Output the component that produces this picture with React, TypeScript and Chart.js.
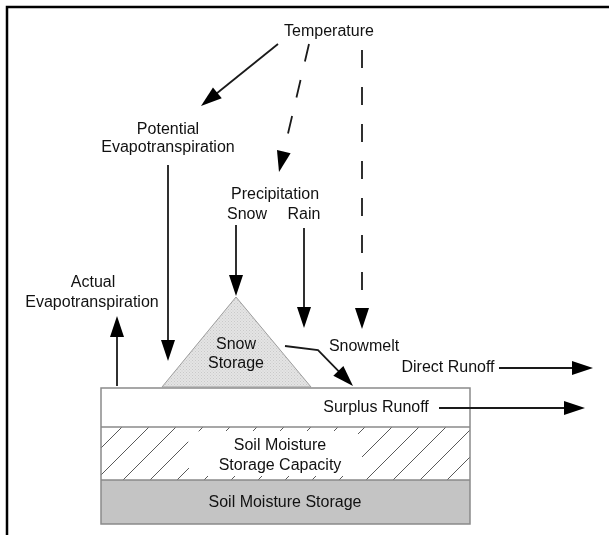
import React, { useEffect, useRef } from "react";
import { Chart, registerables } from "chart.js";
Chart.register(...registerables);

// Diagram coordinate space (data units)
const X_MAX = 609;
const Y_MAX = 535;

// Outer frame polyline
const frameX = [7, 7, 609];
const frameY = [535, 7, 7];

// Straight arrows
const arrowNames = [
  "Temperature→PET",
  "Temperature→Precipitation",
  "Temperature→Snowmelt",
  "PET→Soil",
  "Snow→Storage",
  "Rain→Soil",
  "Actual ET",
  "Direct Runoff",
  "Surplus Runoff",
];
const arrowX0 = [278, 309, 362, 168, 236, 304, 117, 499, 439];
const arrowY0 = [44, 44, 50, 165, 225, 228, 386, 368, 408];
const arrowX1 = [201, 279, 362, 168, 236, 304, 117, 593, 585];
const arrowY1 = [106, 172, 329, 361, 296, 328, 316, 368, 408];
const arrowDashed = [false, true, true, false, false, false, false, false, false];

// Snowmelt bent arrow
const meltX = [285, 318, 353];
const meltY = [346, 350, 386];

// Snow storage triangle
const triX = [162, 236, 311];
const triY = [387, 297, 387];

// Soil column layers
const boxLeft = 101;
const boxRight = 470;
const layerNames = ["Surplus", "Capacity", "Storage"];
const layerTop = [388, 427, 480];
const layerBottom = [427, 480, 524];

// Text labels
const labelTexts = [
  "Temperature",
  "Potential",
  "Evapotranspiration",
  "Precipitation",
  "Snow",
  "Rain",
  "Actual",
  "Evapotranspiration",
  "Snow",
  "Storage",
  "Snowmelt",
  "Direct Runoff",
  "Surplus Runoff",
  "Soil Moisture",
  "Storage Capacity",
  "Soil Moisture Storage",
];
const labelX = [329, 168, 168, 275, 247, 304, 93, 92, 236, 236, 364, 448, 376, 280, 280, 285];
const labelY = [32, 130, 148, 195, 215, 215, 283, 303, 345, 364, 347, 368, 408, 446, 466, 503];

const FONT = '16px "Liberation Sans", Arial, sans-serif';
const INK = "#000000";

function seg(x0: number, y0: number, x1: number, y1: number, trim: number) {
  const dx = x1 - x0;
  const dy = y1 - y0;
  const len = Math.hypot(dx, dy);
  return [
    { x: x0, y: y0 },
    { x: x1 - (dx / len) * trim, y: y1 - (dy / len) * trim },
  ];
}

const diagramPlugin = {
  id: "diagram",
  beforeDatasetsDraw(chart: any) {
    const { ctx, scales } = chart;
    const px = (v: number) => scales.x.getPixelForValue(v);
    const py = (v: number) => scales.y.getPixelForValue(v);
    ctx.save();
    const L = px(boxLeft);
    const R = px(boxRight);
    ctx.fillStyle = "#ffffff";
    ctx.fillRect(L, py(layerTop[0]), R - L, py(layerBottom[0]) - py(layerTop[0]));
    const hT = py(layerTop[1]);
    const hB = py(layerBottom[1]);
    ctx.fillRect(L, hT, R - L, hB - hT);
    ctx.save();
    ctx.beginPath();
    ctx.rect(L, hT, R - L, hB - hT);
    ctx.clip();
    ctx.strokeStyle = "#5a5a5a";
    ctx.lineWidth = 1;
    const h = hB - hT;
    for (let bx = px(123) - 27 * 6; bx < R + 10; bx += 27) {
      ctx.beginPath();
      ctx.moveTo(bx, hB);
      ctx.lineTo(bx + h, hT);
      ctx.stroke();
    }
    ctx.restore();
    // backdrop behind capacity text
    ctx.fillStyle = "#ffffff";
    ctx.beginPath();
    const bxL = px(188), bxR = px(362), byT = py(431), byB = py(476);
    const r = 14;
    ctx.moveTo(bxL + r, byT);
    ctx.lineTo(bxR - r, byT);
    ctx.quadraticCurveTo(bxR, byT, bxR, byT + r);
    ctx.lineTo(bxR, byB - r);
    ctx.quadraticCurveTo(bxR, byB, bxR - r, byB);
    ctx.lineTo(bxL + r, byB);
    ctx.quadraticCurveTo(bxL, byB, bxL, byB - r);
    ctx.lineTo(bxL, byT + r);
    ctx.quadraticCurveTo(bxL, byT, bxL + r, byT);
    ctx.fill();
    ctx.fillStyle = "#c4c4c4";
    ctx.fillRect(L, py(layerTop[2]), R - L, py(layerBottom[2]) - py(layerTop[2]));
    ctx.strokeStyle = "#8a8a8a";
    ctx.lineWidth = 1.5;
    ctx.strokeRect(L, py(layerTop[0]), R - L, py(layerBottom[2]) - py(layerTop[0]));
    for (let i = 1; i < layerNames.length; i++) {
      ctx.beginPath();
      ctx.moveTo(L, py(layerTop[i]));
      ctx.lineTo(R, py(layerTop[i]));
      ctx.stroke();
    }
    const pc = document.createElement("canvas");
    pc.width = 3;
    pc.height = 3;
    const pctx = pc.getContext("2d")!;
    pctx.fillStyle = "#e4e4e4";
    pctx.fillRect(0, 0, 3, 3);
    pctx.fillStyle = "#c9c9c9";
    pctx.fillRect(0, 0, 1, 1);
    pctx.fillRect(1.5, 1.5, 1, 1);
    ctx.fillStyle = ctx.createPattern(pc, "repeat");
    ctx.beginPath();
    ctx.moveTo(px(triX[0]), py(triY[0]));
    for (let i = 1; i < triX.length; i++) ctx.lineTo(px(triX[i]), py(triY[i]));
    ctx.closePath();
    ctx.fill();
    ctx.strokeStyle = "#9c9c9c";
    ctx.lineWidth = 1;
    ctx.stroke();
    ctx.restore();
  },
  afterDatasetsDraw(chart: any) {
    const { ctx, scales } = chart;
    const px = (v: number) => scales.x.getPixelForValue(v);
    const py = (v: number) => scales.y.getPixelForValue(v);
    ctx.save();
    const head = (x0: number, y0: number, x1: number, y1: number) => {
      const ax = px(x1), ay = py(y1);
      const ang = Math.atan2(py(y1) - py(y0), px(x1) - px(x0));
      const len = 21, half = 7;
      ctx.save();
      ctx.translate(ax, ay);
      ctx.rotate(ang);
      ctx.fillStyle = INK;
      ctx.beginPath();
      ctx.moveTo(0, 0);
      ctx.lineTo(-len, -half);
      ctx.lineTo(-len, half);
      ctx.closePath();
      ctx.fill();
      ctx.restore();
    };
    for (let i = 0; i < arrowNames.length; i++) {
      head(arrowX0[i], arrowY0[i], arrowX1[i], arrowY1[i]);
    }
    const n = meltX.length;
    head(meltX[n - 2], meltY[n - 2], meltX[n - 1], meltY[n - 1]);
    ctx.fillStyle = "#111111";
    ctx.font = FONT;
    ctx.textAlign = "center";
    ctx.textBaseline = "middle";
    for (let i = 0; i < labelTexts.length; i++) {
      ctx.fillText(labelTexts[i], px(labelX[i]), py(labelY[i]));
    }
    ctx.restore();
  },
};

export default function App() {
  const ref = useRef<HTMLCanvasElement | null>(null);
  useEffect(() => {
    document.body.style.margin = "0";
    const canvas = ref.current!;
    const datasets: any[] = [];
    datasets.push({
      label: "frame",
      data: frameX.map((x, i) => ({ x, y: frameY[i] })),
      borderColor: "#000000",
      borderWidth: 2.5,
      showLine: true,
      pointRadius: 0,
      fill: false,
    });
    for (let i = 0; i < arrowNames.length; i++) {
      datasets.push({
        label: arrowNames[i],
        data: seg(arrowX0[i], arrowY0[i], arrowX1[i], arrowY1[i], 12),
        borderColor: "#1a1a1a",
        borderWidth: 1.8,
        borderDash: arrowDashed[i] ? [18, 19] : [],
        showLine: true,
        pointRadius: 0,
        fill: false,
      });
    }
    const n = meltX.length;
    const meltPts = meltX.slice(0, n - 1).map((x, i) => ({ x, y: meltY[i] }));
    const last = seg(meltX[n - 2], meltY[n - 2], meltX[n - 1], meltY[n - 1], 12)[1];
    meltPts.push(last);
    datasets.push({
      label: "Snowmelt",
      data: meltPts,
      borderColor: "#1a1a1a",
      borderWidth: 1.8,
      showLine: true,
      pointRadius: 0,
      fill: false,
      tension: 0,
    });
    const chart = new Chart(canvas, {
      type: "scatter",
      data: { datasets },
      options: {
        animation: false,
        responsive: false,
        maintainAspectRatio: false,
        layout: { padding: 0 },
        plugins: { legend: { display: false }, tooltip: { enabled: false } },
        scales: {
          x: { type: "linear", min: 0, max: X_MAX, display: false },
          y: { type: "linear", min: 0, max: Y_MAX, reverse: true, display: false },
        },
        elements: { line: { borderCapStyle: "butt" } },
      },
      plugins: [diagramPlugin],
    } as any);
    return () => chart.destroy();
  }, []);
  return (
    <div style={{ width: X_MAX, height: Y_MAX, background: "#ffffff" }}>
      <canvas ref={ref} width={X_MAX} height={Y_MAX} />
    </div>
  );
}
